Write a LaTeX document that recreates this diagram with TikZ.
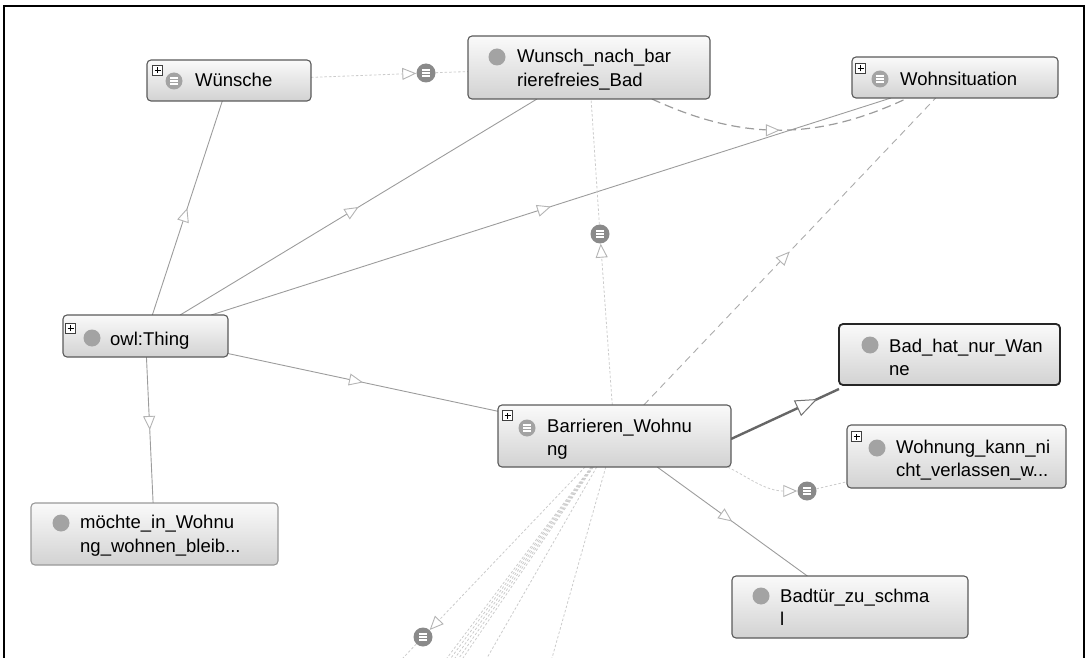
\documentclass[tikz,border=0pt]{standalone}
\usepackage{fontspec}
\setmainfont{Liberation Sans}
\usetikzlibrary{arrows.meta,decorations.markings}
\pgfdeclarelayer{links}
\pgfsetlayers{links,main}
\definecolor{boxline}{HTML}{5A5A5A}
\definecolor{boxtop}{HTML}{FAFAFA}
\definecolor{boxbot}{HTML}{D2D2D2}
\definecolor{edgegray}{HTML}{9C9C9C}
\definecolor{tipgray}{HTML}{B4B4B4}
\definecolor{dotgray}{HTML}{CBCBCB}
\definecolor{dashgray}{HTML}{ABABAB}
\definecolor{discgray}{HTML}{A3A3A3}
\definecolor{icongray}{HTML}{8A8A8A}
\tikzset{
  box/.style={draw=boxline, line width=1.1pt, rounded corners=4pt,
    top color=boxtop, bottom color=boxbot, inner sep=0pt, outer sep=0pt},
  lbl/.style={anchor=base west, inner sep=0pt, font=\fontsize{18.5}{22}\selectfont},
  disc/.style={circle, fill=discgray, minimum size=17pt, inner sep=0pt},
  eqlines/.style={path picture={
    \foreach \dy in {-3,0,3}
      \draw[white, line width=1.1pt]
        ([xshift=-4pt,yshift=\dy pt]path picture bounding box.center) --
        ([xshift=4pt,yshift=\dy pt]path picture bounding box.center);}},
  relicon/.style={circle, fill=icongray, minimum size=19pt, inner sep=0pt, eqlines},
  plusbox/.style={draw=black!75, fill=white, line width=0.6pt, minimum size=10pt,
    inner sep=0pt, path picture={
      \draw[black, line width=1pt]
        ([xshift=-3pt]path picture bounding box.center) -- ([xshift=3pt]path picture bounding box.center)
        ([yshift=-3pt]path picture bounding box.center) -- ([yshift=3pt]path picture bounding box.center);}},
  opentip/.tip={Triangle[color=tipgray, fill=white, length=14pt, width=12pt, line width=0.9pt]},
  midarrow/.style={postaction={decorate}, decoration={markings,
    mark=at position #1 with {\arrow{opentip}}}},
  solidedge/.style={draw=edgegray, line width=0.9pt, midarrow=0.5},
  dotedge/.style={draw=dotgray, line width=0.8pt, dash pattern=on 2.5pt off 2pt},
  dashedge/.style={draw=dashgray, line width=0.9pt, dash pattern=on 7pt off 5pt},
}
\begin{document}
\begin{tikzpicture}[x=1pt, y=-1pt]
\useasboundingbox (0,0) rectangle (1088,658);

% ---- entity boxes ----
\path
  node[box, minimum width=164pt, minimum height=41pt] (wuensche) at (229,80.5) {}
  node[box, minimum width=242pt, minimum height=63pt] (wunsch) at (589,67.5) {}
  node[box, minimum width=206pt, minimum height=41pt] (wohn) at (955,77.5) {}
  node[box, minimum width=165pt, minimum height=42pt] (thing) at (145.5,336) {}
  node[box, minimum width=233pt, minimum height=62pt] (barr) at (614.5,436) {}
  node[box, draw=black!85, line width=1.8pt, minimum width=221pt, minimum height=61pt] (badhat) at (949.5,354.5) {}
  node[box, minimum width=219pt, minimum height=63pt] (kann) at (956.5,456.5) {}
  node[box, draw=black!40, minimum width=247pt, minimum height=62pt] (moechte) at (154.5,534) {}
  node[box, minimum width=236pt, minimum height=62pt] (badtuer) at (850,607) {};

% ---- relation markers ----
\path
  node[relicon] (r1) at (426,73) {}
  node[relicon] (r2) at (600,234) {}
  node[relicon] (r3) at (807,491) {}
  node[relicon] (r4) at (423,637) {};

% free ends of the connectors that leave the drawing at the bottom
\coordinate (f1) at (403,658);
\coordinate (f2) at (447,658);
\coordinate (f3) at (451,658);
\coordinate (f4) at (455,658);
\coordinate (f5) at (459,658);
\coordinate (f6) at (463,658);
\coordinate (f7) at (487,658);
\coordinate (f8) at (552,658);

% ---- connectors, kept beneath the boxes ----
\begin{pgfonlayer}{links}
% subclass links
\draw[solidedge] (thing) -- (wuensche);
\draw[solidedge] (thing) -- (wunsch);
\draw[solidedge] (thing) -- (wohn);
\draw[solidedge] (thing) -- (moechte);
\draw[solidedge] (thing) -- (barr);
\draw[solidedge] (barr) -- (badtuer);

% dotted property links through their markers
\draw[dotedge, -{opentip}] (wuensche) -- (r1);
\draw[dotedge] (r1) -- (wunsch);
\draw[dotedge, -{opentip}] (barr) -- (r2);
\draw[dotedge] (r2) -- (wunsch);
\draw[dotedge, -{opentip}] ([xshift=62pt]barr.south) to[out=32, in=180] (r3);
\draw[dotedge] (r3) -- (kann);
\draw[dotedge, -{opentip}] (barr) -- (r4);
\draw[dotedge] (r4) -- (f1);
\foreach \f in {f2,f3,f4,f5,f6,f7,f8}
  \draw[dotedge] (barr) -- (\f);

% dashed links to Wohnsituation
\draw[dashedge, midarrow=0.5] (barr) -- (wohn);
\draw[dashedge, draw=edgegray, line width=1.2pt, dash pattern=on 9pt off 5pt, midarrow=0.5]
  (wunsch) to[bend right=25] (wohn);

% highlighted link
\draw[draw=black!60, line width=2.4pt,
  postaction={decorate}, decoration={markings, mark=at position 0.8 with
  {\arrow{Triangle[color=black!55, fill=white, length=22pt, width=17pt, line width=1pt]}}}]
  ([yshift=-3pt]barr.east) -- ([yshift=-4pt]badhat.south west);
\end{pgfonlayer}

% ---- box contents ----
\node[plusbox] (wuensche-p) at (157.5,70.5) {};
\node[disc, eqlines] (wuensche-i) at (174,81) {};
\node[lbl] (wuensche-t) at (195,87) {Wünsche};

\node[disc] (wunsch-i) at (497,57) {};
\node[lbl] (wunsch-t1) at (517,63) {Wunsch\_nach\_bar};
\node[lbl] (wunsch-t2) at (517,87) {rierefreies\_Bad};

\node[plusbox] (wohn-p) at (860.5,68.5) {};
\node[disc, eqlines] (wohn-i) at (880,79) {};
\node[lbl] (wohn-t) at (900,86) {Wohnsituation};

\node[plusbox] (thing-p) at (70.5,328) {};
\node[disc] (thing-i) at (92,338) {};
\node[lbl] (thing-t) at (110,345) {owl:Thing};

\node[plusbox] (barr-p) at (507.5,415.5) {};
\node[disc, eqlines] (barr-i) at (527,428) {};
\node[lbl] (barr-t1) at (547,432) {Barrieren\_Wohnu};
\node[lbl] (barr-t2) at (547,455) {ng};

\node[disc] (badhat-i) at (870,345) {};
\node[lbl] (badhat-t1) at (889,352) {Bad\_hat\_nur\_Wan};
\node[lbl] (badhat-t2) at (889,375) {ne};

\node[plusbox] (kann-p) at (856.5,436.5) {};
\node[disc] (kann-i) at (877,448) {};
\node[lbl] (kann-t1) at (896,453) {Wohnung\_kann\_ni};
\node[lbl] (kann-t2) at (896,476) {cht\_verlassen\_w...};

\node[disc] (moechte-i) at (61,523) {};
\node[lbl] (moechte-t1) at (80,528) {möchte\_in\_Wohnu};
\node[lbl] (moechte-t2) at (80,552) {ng\_wohnen\_bleib...};

\node[disc] (badtuer-i) at (761,596) {};
\node[lbl] (badtuer-t1) at (780,602) {Badtür\_zu\_schma};
\node[lbl] (badtuer-t2) at (780,625) {l};

% ---- frame ----
\draw[black, line width=2.5pt] (4,658) -- (4,6) -- (1084,6) -- (1084,658);
\end{tikzpicture}
\end{document}
